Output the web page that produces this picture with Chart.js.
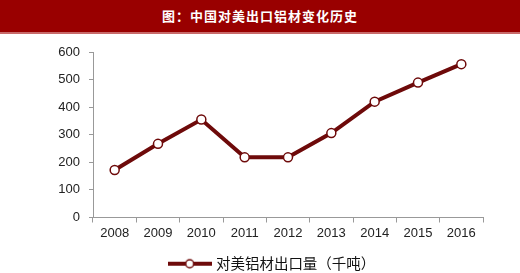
<!DOCTYPE html>
<html>
<head>
<meta charset="utf-8">
<script src="https://cdn.jsdelivr.net/npm/chart.js@4/dist/chart.umd.min.js"></script>
<style>
  html, body { margin: 0; padding: 0; background: #fff; overflow: hidden; }
  #title {
    height: 32px; background: #990000; color: #fff;
    border-bottom: 2px solid #c86a6a;
    text-align: center; font: bold 13px "Noto Sans CJK SC", sans-serif; letter-spacing: 1px;
  }
  #title span { position: relative; top: 6px; }
  #wrap { position: relative; width: 520px; height: 248px; }
</style>
</head>
<body>
<div id="title"><span>图：中国对美出口铝材变化历史</span></div>
<div id="wrap"><canvas id="c"></canvas></div>
<script>
const years = ['2008', '2009', '2010', '2011', '2012', '2013', '2014', '2015', '2016'];
const exportVolume = [172, 267, 355, 218, 218, 306, 420, 489, 556];
const yTicks = [0, 100, 200, 300, 400, 500, 600];
const seriesName = '对美铝材出口量（千吨）';

const lineColor = '#6e0a0a';

// legend marker: line with a hollow circle in the middle
const marker = document.createElement('canvas');
marker.width = 44; marker.height = 12;
const mctx = marker.getContext('2d');
mctx.strokeStyle = lineColor;
mctx.lineWidth = 4;
mctx.beginPath(); mctx.moveTo(0, 6); mctx.lineTo(44, 6); mctx.stroke();
mctx.fillStyle = '#fff';
mctx.lineWidth = 1.5;
mctx.beginPath(); mctx.arc(22, 6, 4, 0, Math.PI * 2); mctx.fill(); mctx.stroke();

const axisFont = { family: '"Liberation Sans", Arial, sans-serif', size: 13 };

new Chart(document.getElementById('c'), {
  type: 'line',
  data: {
    labels: years,
    datasets: [{
      label: seriesName,
      data: exportVolume,
      borderColor: lineColor,
      borderWidth: 4,
      pointRadius: 4.5,
      pointBackgroundColor: '#fff',
      pointBorderColor: lineColor,
      pointBorderWidth: 1.5,
      tension: 0
    }]
  },
  options: {
    responsive: true,
    maintainAspectRatio: false,
    animation: false,
    layout: { padding: { left: 26, right: 0, top: 18, bottom: 1 } },
    plugins: {
      tooltip: { enabled: false },
      legend: {
        position: 'bottom',
        labels: {
          usePointStyle: true,
          pointStyleWidth: 38,
          color: '#111',
          padding: 3,
          font: { family: '"Noto Sans CJK SC", sans-serif', size: 14.5 },
          generateLabels: chart => [{
            text: seriesName, pointStyle: marker, fillStyle: '#fff',
            strokeStyle: lineColor, lineWidth: 0, datasetIndex: 0, fontColor: '#111'
          }]
        }
      }
    },
    scales: {
      x: {
        offset: true,
        grid: { display: true, offset: true, drawOnChartArea: false, drawTicks: true, tickLength: 5, color: '#999' },
        border: { display: true, color: '#999' },
        ticks: { color: '#222', padding: 3, font: axisFont },
        afterFit: s => { s.height = 36; }
      },
      y: {
        min: 0, max: 600,
        afterBuildTicks: s => { s.ticks = yTicks.map(v => ({ value: v })); },
        grid: { display: true, drawOnChartArea: false, drawTicks: true, tickLength: 4, color: '#999' },
        border: { display: true, color: '#999' },
        ticks: { color: '#222', padding: 9, font: axisFont },
        afterFit: s => { s.width = 67; }
      },
      // empty right axis, only keeps the space right of the plot
      yRight: {
        position: 'right',
        display: true,
        grid: { display: false },
        border: { display: false },
        ticks: { display: false },
        afterFit: s => { s.width = 37; }
      }
    }
  }
});
</script>
</body>
</html>
